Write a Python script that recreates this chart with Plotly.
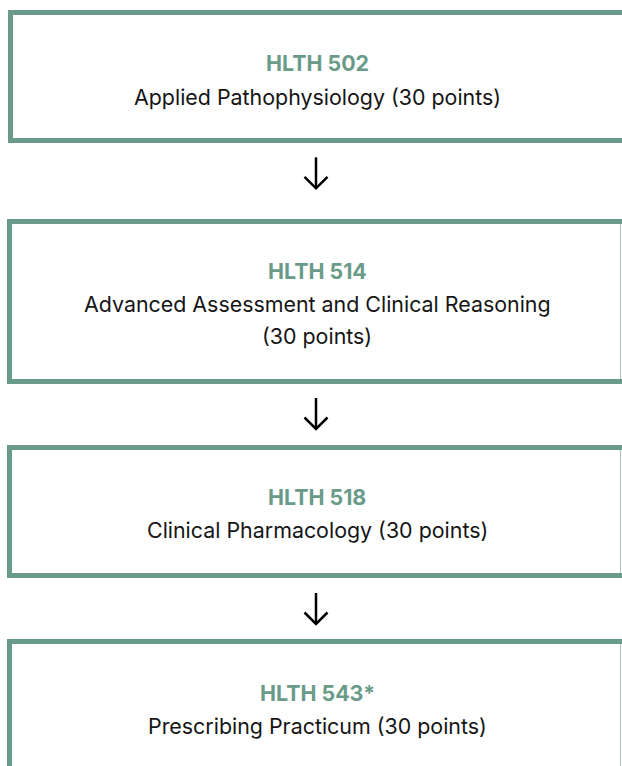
import plotly.graph_objects as go

# Data
course_codes = ["HLTH 502", "HLTH 514", "HLTH 518", "HLTH 543*"]
course_titles = [
    "Applied Pathophysiology (30 points)",
    "Advanced Assessment and Clinical Reasoning<br>(30 points)",
    "Clinical Pharmacology (30 points)",
    "Prescribing Practicum (30 points)",
]

# Layout (pixel coordinates)
W, H = 622, 766
box_top = [10, 219, 445, 639]
box_bot = [143, 384, 578, 800]
box_left = [8, 7, 7, 7]
box_right = [640, 622, 622, 622]
code_y = [63, 271, 497, 693]
title_y = [97, 304, 530, 726]
arrow_mid = [172.8, 413.5, 608.5]
LINE_GAP = 32
GREEN = "#699b88"
LIGHT = "#a9c6ba"
BW = 5
FS = 21.4

fig = go.Figure()
shapes = []
annotations = []
for i, code in enumerate(course_codes):
    t, b, l, r = box_top[i], box_bot[i], box_left[i], box_right[i]
    shapes.append(dict(type="line", x0=r - 1.5, x1=r - 1.5, y0=t, y1=b,
                       line=dict(color=LIGHT, width=1), xref="x", yref="y"))
    shapes.append(dict(type="rect", x0=l, x1=r, y0=t, y1=t + BW,
                       fillcolor=GREEN, line_width=0, xref="x", yref="y"))
    shapes.append(dict(type="rect", x0=l, x1=r, y0=b - BW, y1=b,
                       fillcolor=GREEN, line_width=0, xref="x", yref="y"))
    shapes.append(dict(type="rect", x0=l, x1=l + BW, y0=t, y1=b,
                       fillcolor=GREEN, line_width=0, xref="x", yref="y"))
    annotations.append(dict(x=317, y=code_y[i], text="<b>" + code + "</b>",
                            showarrow=False, xref="x", yref="y",
                            xanchor="center", yanchor="middle",
                            font=dict(family="Inter", size=FS, color=GREEN)))
    for k, line in enumerate(course_titles[i].split("<br>")):
        annotations.append(dict(x=317, y=title_y[i] + k * LINE_GAP, text=line,
                                showarrow=False, xref="x", yref="y",
                                xanchor="center", yanchor="middle",
                                font=dict(family="Inter", size=FS, color="#151515")))

for m in arrow_mid:
    y0, y1 = m - 15.5, m + 15.5
    shapes.append(dict(type="line", x0=316, x1=316, y0=y0, y1=y1,
                       line=dict(color="#000000", width=2.5), xref="x", yref="y"))
    shapes.append(dict(type="path",
                       path=f"M 304.5 {y1-11.5} L 316 {y1} L 327.5 {y1-11.5}",
                       line=dict(color="#000000", width=2.5), xref="x", yref="y"))

fig.update_layout(
    width=W, height=H,
    margin=dict(l=0, r=0, t=0, b=0),
    paper_bgcolor="white", plot_bgcolor="white",
    xaxis=dict(range=[0, W], visible=False, fixedrange=True),
    yaxis=dict(range=[H, 0], visible=False, fixedrange=True),
    shapes=shapes, annotations=annotations, showlegend=False,
)
fig.write_html("out.html", config={"displayModeBar": False},
               post_script="document.body.style.margin='0';document.body.style.overflow='hidden';")
